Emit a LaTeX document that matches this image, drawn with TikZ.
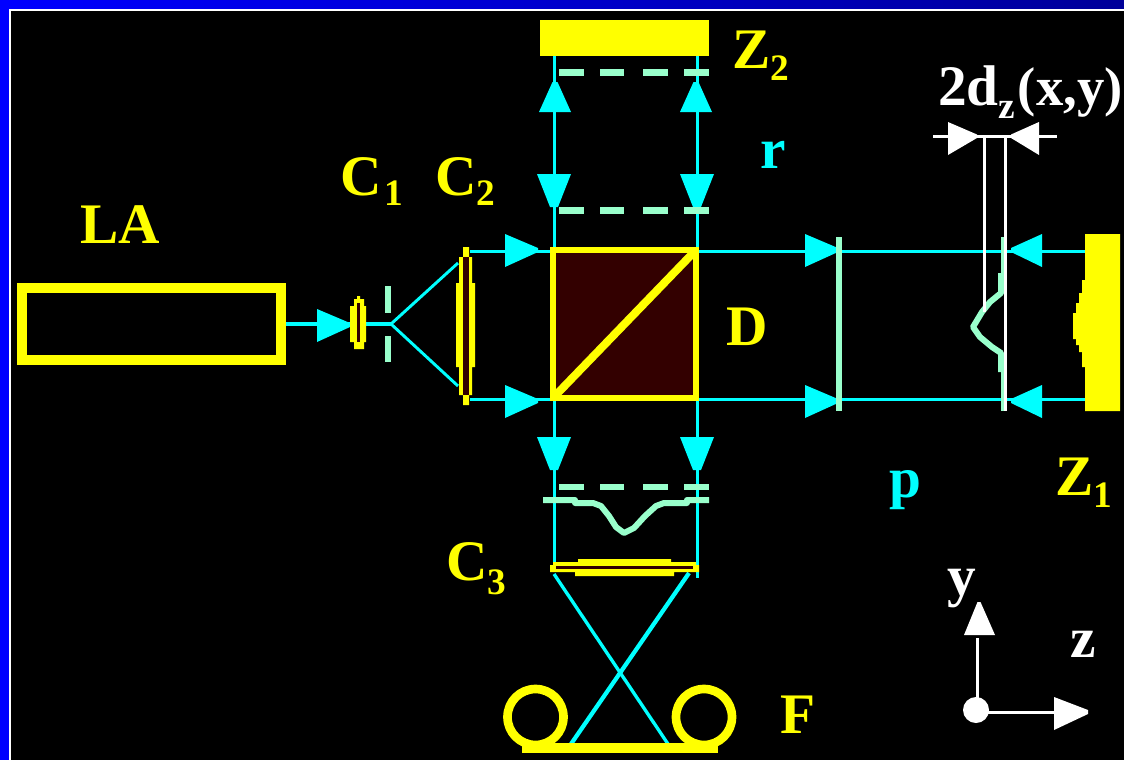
\documentclass[tikz,border=0pt]{standalone}
\usepackage{fontspec}
\setmainfont{Liberation Serif}[BoldFont={Liberation Serif Bold}]
\definecolor{ylw}{HTML}{FFFF00}
\definecolor{cyn}{HTML}{00FFFF}
\definecolor{mnt}{HTML}{99FFCC}
\definecolor{drk}{HTML}{330000}
\newcommand{\arR}[3]{\fill[#1] (#2,{#3-2})--({#2-33},{#3-16})--({#2-33},{#3+17})--(#2,{#3+2})--cycle;}
\newcommand{\arL}[3]{\fill[#1] (#2,{#3-2})--({#2+31},{#3-16})--({#2+31},{#3+17})--(#2,{#3+2})--cycle;}
\newcommand{\arU}[3]{\fill[#1] ({#2-2.5},#3)--({#2-16},{#3+30})--({#2+16},{#3+30})--({#2+2.5},#3)--cycle;}
\newcommand{\arD}[3]{\fill[#1] ({#2-4},#3)--({#2-17},{#3-33})--({#2+17},{#3-33})--({#2+4},#3)--cycle;}
\newcommand{\lbl}[1]{\fontsize{#1}{#1}\selectfont\bfseries}
% subscript lowered by #2 (pt) after a kern of #1 (pt)
\newcommand{\subs}[3]{\kern#1pt\lower#2pt\hbox{\lbl{28}#3}}
\tikzset{
  x=0.75pt,y=-0.75pt,
  beam/.style={draw=cyn,line width=2.25pt},
  ray/.style={draw=cyn,line width=2.2pt},
  wave/.style={draw=mnt,line width=4.5pt,line join=round},
  thinwave/.style={draw=mnt,line width=2.4pt},
  plate/.style={draw=mnt,line width=4.5pt},
  dim/.style={draw=white,line width=2.25pt},
  yfill/.style={fill=ylw},
  box/.style={draw=ylw,inner sep=0pt,outer sep=0pt},
  txt/.style={inner sep=0pt,outer sep=0pt,anchor=base west},
  big/.style={txt,font=\lbl{43}}
}
\begin{document}
\begin{tikzpicture}
\useasboundingbox (0,0) rectangle (1124,760);
\fill[black] (0,0) rectangle (1124,760);
% frame
\fill[left color=blue,right color=blue!60!black] (0,0) rectangle (1124,9);
\fill[blue] (0,0) rectangle (9,760);
\fill[white] (9,9) rectangle (1124,11);
\fill[white] (9,9) rectangle (11,760);

% named points
\coordinate (laserout) at (282,324);
\coordinate (focus) at (391,324);
\coordinate (c2t) at (458,263);
\coordinate (c2b) at (458,386);
\coordinate (c2tb) at (470,251);
\coordinate (c2bb) at (470,399.5);
\coordinate (z1t) at (1086,251);
\coordinate (z1b) at (1086,399.5);
\coordinate (z2l) at (554.5,55);
\coordinate (z2r) at (697.5,55);
\coordinate (c3l) at (554.5,570);
\coordinate (c3r) at (697.5,578);
\coordinate (xl) at (554,574);
\coordinate (xr) at (689,573);
\coordinate (fl) at (571,744);
\coordinate (fr) at (668,744);

% beams
\draw[beam,line width=3pt] (laserout) -- (focus);
\draw[ray] (focus) -- (c2t);
\draw[ray] (focus) -- (c2b);
\draw[beam] (c2tb) -- (z1t);
\draw[beam] (c2bb) -- (z1b);
\draw[beam] (z2l) -- (c3l);
\draw[beam] (z2r) -- (c3r);
\draw[ray,line width=2.5pt] (xl) -- (fr);
\draw[ray,line width=3.2pt] (xr) -- (fl);

% arrows
\arR{cyn}{350}{325}
\arR{cyn}{538}{250}
\arR{cyn}{538}{401}
\arR{cyn}{838}{250}
\arR{cyn}{838}{401}
\arL{cyn}{1011}{250}
\arL{cyn}{1011}{401}
\arU{cyn}{555}{82}
\arU{cyn}{696}{82}
\arD{cyn}{554}{207}
\arD{cyn}{697}{207}
\arD{cyn}{554}{470}
\arD{cyn}{697}{470}

% laser
\node[box,line width=7.5pt,minimum width=193.9pt,minimum height=54pt] (laser) at (151.25,324) {};
% lens C1
\fill[ylw] (357,296) -- (360,296) -- (360,299) -- (364,299) -- (364,306) -- (366,306) -- (366,342) -- (364,342) -- (364,349) -- (354,349) -- (354,342) -- (350,342) -- (350,306) -- (354,306) -- (354,299) -- (357,299) -- cycle;
\fill[drk] (357,303) rectangle (360,342);
% pinhole
\fill[mnt] (385,286) rectangle (391,313);
\fill[mnt] (385,336) rectangle (391,362);
% lens C2
\fill[ylw] (463,247) -- (469,247) -- (469,257) -- (472,257) -- (472,283) -- (475,283) -- (475,367) -- (472,367) -- (472,395) -- (469,395) -- (469,405) -- (463,405) -- (463,395) -- (459,395) -- (459,367) -- (456,367) -- (456,283) -- (459,283) -- (459,257) -- (463,257) -- cycle;
\fill[drk] (463,257) rectangle (469,395);
% cube
\node[box,fill=drk,line width=4.5pt,minimum width=107.25pt,minimum height=111pt] (cube) at (624.5,324) {};
\draw[ylw,line width=6pt] (cube.south west) -- (cube.north east);
% mirror Z2
\node[yfill,inner sep=0pt,outer sep=0pt,minimum width=126.75pt,minimum height=27pt] (z2) at (624.5,38) {};
% mirror Z1
\fill[ylw] (1085,234) -- (1120,234) -- (1120,411) -- (1085,411) -- (1085,367) -- (1082,367) -- (1082,352) -- (1079,352) -- (1079,345) -- (1076,345) -- (1076,339) -- (1073,339) -- (1073,313) -- (1076,313) -- (1076,303) -- (1079,303) -- (1079,293) -- (1082,293) -- (1082,280) -- (1085,280) -- cycle;
% dashes
\foreach \yy in {72.5,210.5,487}{
  \foreach \aa/\bb in {559/584,600/624,643/668,684/709}{
    \fill[mnt] (\aa,\yy-3.3) rectangle (\bb,\yy+3.3);
  }
}
% wavefront below cube
\draw[wave] (543,500) -- (575,500) -- (575,503) -- (593,503) -- (601,506) -- (609,516) -- (616,527) -- (624,533) -- (634,528) -- (645,516) -- (656,506) -- (664,503) -- (687,503) -- (687,500) -- (709,500);
% lens C3
\fill[ylw] (550,565) -- (553,565) -- (553,562) -- (578,562) -- (578,559) -- (671,559) -- (671,562) -- (696,562) -- (696,565) -- (699,565) -- (699,572) -- (674,572) -- (674,576) -- (575,576) -- (575,572) -- (550,572) -- cycle;
\fill[drk] (556,566) rectangle (693,569);
% fibre
\draw[ylw,line width=6.5pt] (535.5,717) circle [radius=28];
\draw[ylw,line width=6.5pt] (704,717) circle [radius=28];
\fill[ylw] (522,743) rectangle (718,753);
% plate and wavefront on the right
\draw[plate] (839,237) -- (839,411);
\draw[thinwave] (1002.5,237) -- (1002.5,273);
\draw[thinwave] (1002.5,372) -- (1002.5,411);
\draw[wave] (1001,273) -- (1001,293) -- (990,302) -- (982,312) -- (973,327) -- (980,337) -- (992,347) -- (1001,353) -- (1001,372);
% dimension
\coordinate (dl) at (933,136);
\coordinate (dr) at (1057,136);
\coordinate (w1a) at (984,136);
\coordinate (w1b) at (984,312);
\coordinate (w2a) at (1005,136);
\coordinate (w2b) at (1005,411);
\draw[dim] (dl) -- (dr);
\draw[dim] (w1a) -- (w1b);
\draw[dim] (w2a) -- (w2b);
\fill[white] (977,134.5)--(948,122)--(948,155)--(977,138)--cycle;
\fill[white] (1011,134.5)--(1039,122)--(1039,155)--(1011,138)--cycle;
% axes
\coordinate (origin) at (976,710);
\coordinate (ay) at (977,638);
\coordinate (az) at (1060,712);
\draw[dim] (977,710) -- (ay);
\draw[dim] (origin |- az) -- (az);
\fill[white] (origin) circle [radius=13];
\fill[white] (977.5,602)--(980.5,602)--(995,635)--(964,635)--cycle;
\fill[white] (1088,710)--(1054,697)--(1054,730)--(1088,714)--cycle;

% labels
\node[big,text=ylw] (tla) at (80,243) {LA};
\node[big,text=ylw] (tc1) at (340,195) {C\subs{2}{8}{1}};
\node[big,text=ylw] (tc2) at (435,195) {C\subs{0}{8}{2}};
\node[big,text=ylw] (tz2) at (732,68) {Z\subs{0}{9.5}{2}};
\node[big,text=cyn] (tr) at (760,168) {r};
\node[big,text=ylw] (td) at (726,345) {D};
\node[big,text=cyn] (tp) at (889,497) {p};
\node[big,text=ylw] (tz1) at (1055,495) {Z\subs{0}{9}{1}};
\node[big,text=ylw] (tc3) at (446,580) {C\subs{0}{10.5}{3}};
\node[big,text=ylw] (tf) at (780,733) {F};
\node[big,text=white] (t2d) at (938,105) {2d\subs{0}{10}{z}\kern2pt\lbl{41}(x,y)};
\node[big,text=white] (ty) at (947,595) {y};
\node[big,text=white] (tz) at (1070,657) {z};
\end{tikzpicture}
\end{document}
